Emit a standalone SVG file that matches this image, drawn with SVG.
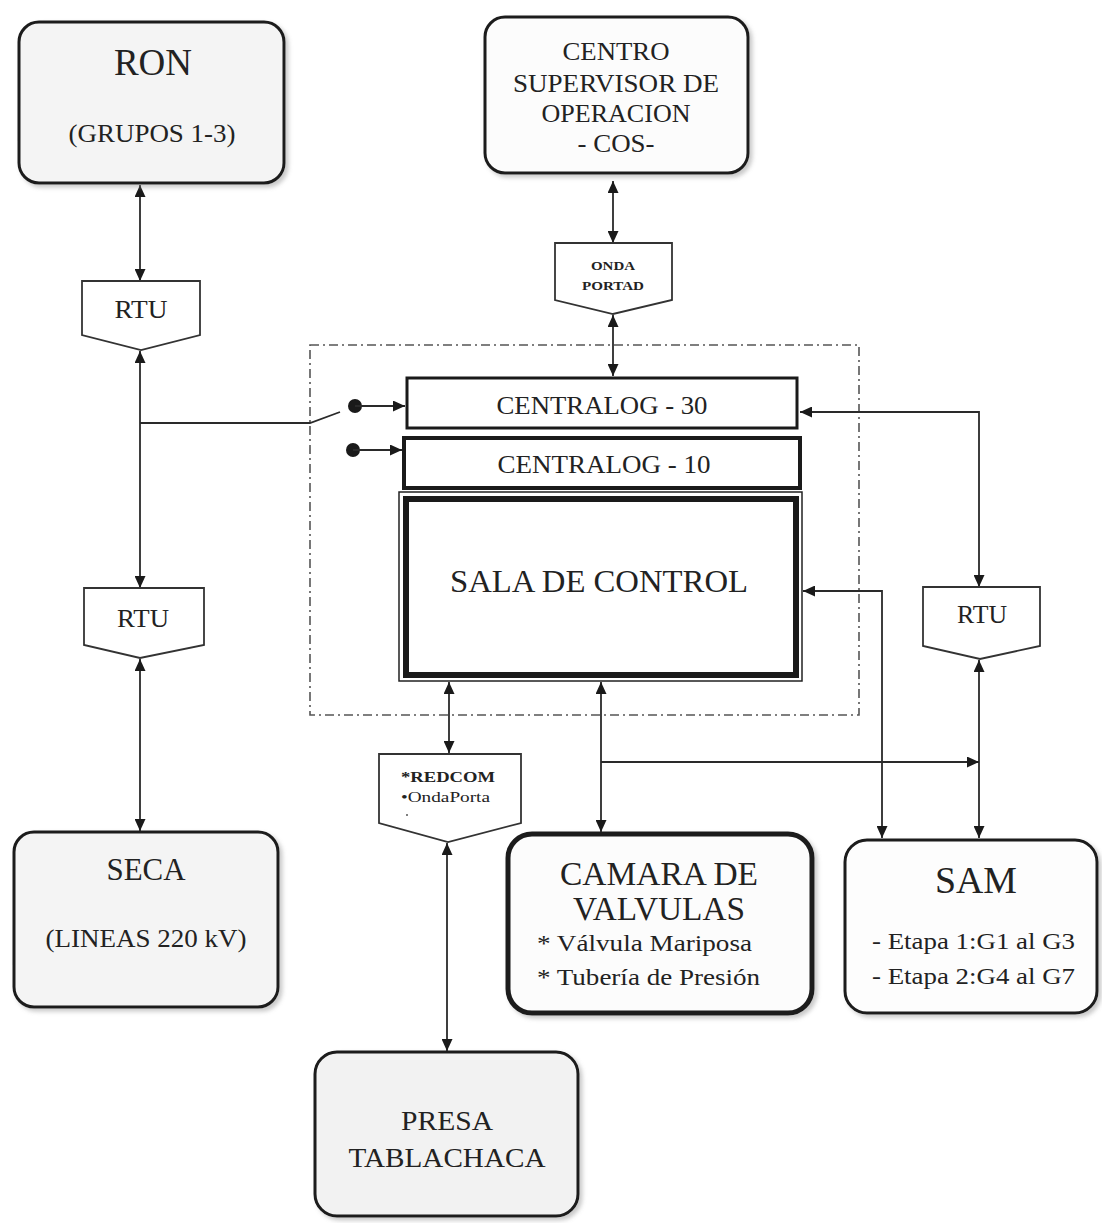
<svg xmlns="http://www.w3.org/2000/svg" width="1102" height="1223" viewBox="0 0 1102 1223">
<defs>
<style>
.t{font-family:"Liberation Serif","Times New Roman",serif;fill:#222;}
.m{text-anchor:middle;}
.b{font-weight:bold;}
.rbox{stroke:#1a1a1a;stroke-width:3;}
.pent{fill:#fff;stroke:#333;stroke-width:1.8;}
.con{fill:none;stroke:#2a2a2a;stroke-width:1.8;}
.bi{marker-start:url(#aS);marker-end:url(#aE);}
.one{marker-end:url(#aE);}
</style>
<marker id="aE" markerUnits="userSpaceOnUse" markerWidth="13" markerHeight="11" refX="12" refY="5.5" orient="auto"><path d="M0,0 L12,5.5 L0,11 z" fill="#1a1a1a"/></marker>
<marker id="aS" markerUnits="userSpaceOnUse" markerWidth="13" markerHeight="11" refX="12" refY="5.5" orient="auto-start-reverse"><path d="M0,0 L12,5.5 L0,11 z" fill="#1a1a1a"/></marker>
<filter id="sh" x="-5%" y="-5%" width="115%" height="115%"><feDropShadow dx="3" dy="3" stdDeviation="2" flood-color="#888" flood-opacity="0.45"/></filter>
</defs>
<rect width="1102" height="1223" fill="#fff"/>

<g id="container">
<rect x="310" y="345" width="549" height="370" fill="none" stroke="#555" stroke-width="1.6" stroke-dasharray="9 4 2 4"/>
</g>

<g id="connectors">
<line class="con bi" x1="140" y1="185" x2="140" y2="281"/>
<line class="con bi" x1="140" y1="351" x2="140" y2="588"/>
<polyline class="con" points="140,423 310,423 340,412"/>
<circle cx="355" cy="406" r="7" fill="#1a1a1a"/>
<line class="con one" x1="355" y1="406" x2="405" y2="406"/>
<circle cx="353" cy="450" r="7" fill="#1a1a1a"/>
<line class="con one" x1="353" y1="450" x2="402" y2="450"/>
<line class="con bi" x1="140" y1="659" x2="140" y2="831"/>
<line class="con bi" x1="613" y1="181" x2="613" y2="243"/>
<line class="con bi" x1="613" y1="315" x2="613" y2="376"/>
<path class="con bi" d="M800 412 H979 V587"/>
<path class="con bi" d="M803 591 H882 V838"/>
<line class="con bi" x1="979" y1="660" x2="979" y2="838"/>
<line class="con one" x1="601" y1="762" x2="979" y2="762"/>
<line class="con bi" x1="449" y1="682" x2="449" y2="753"/>
<line class="con bi" x1="601" y1="682" x2="601" y2="832"/>
<line class="con bi" x1="447" y1="843" x2="447" y2="1051"/>
</g>

<g id="ron">
<rect class="rbox" x="19" y="22" width="265" height="161" rx="20" fill="#f4f4f4" filter="url(#sh)"/>
<text class="t m" x="153" y="75" font-size="37">RON</text>
<text class="t m" x="152" y="142" font-size="25" textLength="167" lengthAdjust="spacingAndGlyphs">(GRUPOS 1-3)</text>
</g>

<g id="cos">
<rect class="rbox" x="485" y="17" width="263" height="156" rx="20" fill="#fcfcfc" filter="url(#sh)"/>
<text class="t m" x="616" y="60" font-size="26" textLength="107" lengthAdjust="spacingAndGlyphs">CENTRO</text>
<text class="t m" x="616" y="92" font-size="26" textLength="206" lengthAdjust="spacingAndGlyphs">SUPERVISOR DE</text>
<text class="t m" x="616" y="122" font-size="26" textLength="149" lengthAdjust="spacingAndGlyphs">OPERACION</text>
<text class="t m" x="616" y="152" font-size="26" textLength="77" lengthAdjust="spacingAndGlyphs">- COS-</text>
</g>

<g id="onda">
<polygon class="pent" points="555,243 672,243 672,300 613,314 555,300"/>
<text class="t m b" x="613" y="270" font-size="12" textLength="44" lengthAdjust="spacingAndGlyphs">ONDA</text>
<text class="t m b" x="613" y="290" font-size="12" textLength="62" lengthAdjust="spacingAndGlyphs">PORTAD</text>
</g>

<g id="rtu1">
<polygon class="pent" points="82,281 200,281 200,335 141,350 82,335"/>
<text class="t m" x="141" y="318" font-size="25" textLength="53" lengthAdjust="spacingAndGlyphs">RTU</text>
</g>

<g id="rtu2">
<polygon class="pent" points="84,588 204,588 204,645 140,658 84,645"/>
<text class="t m" x="143" y="627" font-size="25" textLength="52" lengthAdjust="spacingAndGlyphs">RTU</text>
</g>

<g id="rtu3">
<polygon class="pent" points="923,587 1040,587 1040,646 980,659 923,646"/>
<text class="t m" x="982" y="623" font-size="25" textLength="50" lengthAdjust="spacingAndGlyphs">RTU</text>
</g>

<g id="centralog30">
<rect x="407" y="378" width="390" height="50" fill="#fff" stroke="#1a1a1a" stroke-width="3"/>
<text class="t m" x="602" y="414" font-size="26" textLength="211" lengthAdjust="spacingAndGlyphs">CENTRALOG - 30</text>
</g>

<g id="centralog10">
<rect x="404" y="438" width="396" height="50" fill="#fff" stroke="#1a1a1a" stroke-width="4"/>
<text class="t m" x="604" y="473" font-size="26" textLength="213" lengthAdjust="spacingAndGlyphs">CENTRALOG - 10</text>
</g>

<g id="sala">
<rect x="399" y="492" width="403" height="189" fill="#fff" stroke="#222" stroke-width="1.5"/>
<rect x="406" y="499" width="390" height="176" fill="#fff" stroke="#1a1a1a" stroke-width="6"/>
<text class="t m" x="599" y="592" font-size="32" textLength="298" lengthAdjust="spacingAndGlyphs">SALA DE CONTROL</text>
</g>

<g id="redcom">
<polygon class="pent" points="379,754 521,754 521,823 448,842 379,823"/>
<text class="t b" x="401" y="782" font-size="15" textLength="94" lengthAdjust="spacingAndGlyphs">*REDCOM</text>
<text class="t" x="401" y="802" font-size="14" textLength="89" lengthAdjust="spacingAndGlyphs">•OndaPorta</text>
<circle cx="407" cy="815" r="1" fill="#555"/>
</g>

<g id="seca">
<rect class="rbox" x="14" y="832" width="264" height="175" rx="20" fill="#f4f4f4" filter="url(#sh)"/>
<text class="t m" x="146" y="880" font-size="32" textLength="79" lengthAdjust="spacingAndGlyphs">SECA</text>
<text class="t m" x="146" y="947" font-size="26" textLength="201" lengthAdjust="spacingAndGlyphs">(LINEAS 220 kV)</text>
</g>

<g id="camara">
<rect x="508" y="834" width="304" height="179" rx="24" fill="#fcfcfc" stroke="#1a1a1a" stroke-width="5" filter="url(#sh)"/>
<text class="t m" x="659" y="885" font-size="33" textLength="198" lengthAdjust="spacingAndGlyphs">CAMARA DE</text>
<text class="t m" x="659" y="920" font-size="33" textLength="172" lengthAdjust="spacingAndGlyphs">VALVULAS</text>
<text class="t" x="537" y="951" font-size="24" textLength="215" lengthAdjust="spacingAndGlyphs">* Válvula Mariposa</text>
<text class="t" x="537" y="985" font-size="24" textLength="223" lengthAdjust="spacingAndGlyphs">* Tubería de Presión</text>
</g>

<g id="sam">
<rect class="rbox" x="845" y="840" width="252" height="173" rx="22" fill="#fdfdfd" filter="url(#sh)"/>
<text class="t m" x="976" y="893" font-size="38" textLength="82" lengthAdjust="spacingAndGlyphs">SAM</text>
<text class="t" x="872" y="949" font-size="24" textLength="203" lengthAdjust="spacingAndGlyphs">- Etapa 1:G1 al G3</text>
<text class="t" x="872" y="984" font-size="24" textLength="203" lengthAdjust="spacingAndGlyphs">- Etapa 2:G4 al G7</text>
</g>

<g id="presa">
<rect class="rbox" x="315" y="1052" width="263" height="164" rx="22" fill="#f2f2f2" filter="url(#sh)"/>
<text class="t m" x="447" y="1130" font-size="27" textLength="92" lengthAdjust="spacingAndGlyphs">PRESA</text>
<text class="t m" x="447" y="1167" font-size="27" textLength="197" lengthAdjust="spacingAndGlyphs">TABLACHACA</text>
</g>
</svg>
